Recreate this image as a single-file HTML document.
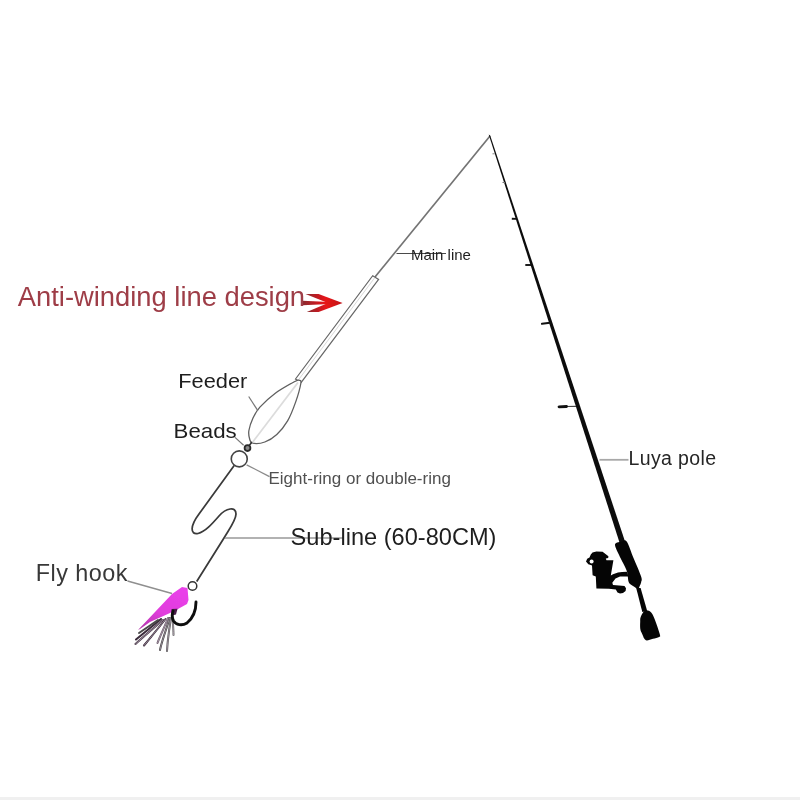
<!DOCTYPE html>
<html><head><meta charset="utf-8">
<style>
html,body{margin:0;padding:0;background:#fff;}
body{width:800px;height:800px;overflow:hidden;position:relative;}
svg{position:absolute;left:0;top:0;will-change:transform;}
text{font-family:"Liberation Sans",sans-serif;}
</style></head>
<body>
<svg width="800" height="800" viewBox="0 0 800 800">
<defs>
<linearGradient id="arr" x1="0" x2="1" y1="0" y2="0">
<stop offset="0" stop-color="#8a2a30"/><stop offset="0.55" stop-color="#e81218"/><stop offset="1" stop-color="#c0141a"/>
</linearGradient>
<linearGradient id="flyg" x1="0.8" y1="0" x2="0.2" y2="1"><stop offset="0" stop-color="#ea40ea"/><stop offset="0.6" stop-color="#e03cdc"/><stop offset="1" stop-color="#b838b0"/></linearGradient>
<filter id="blur1" x="-20%" y="-20%" width="140%" height="140%"><feGaussianBlur stdDeviation="0.6"/></filter>
<filter id="blur2" x="-20%" y="-20%" width="140%" height="140%"><feGaussianBlur stdDeviation="1.2"/></filter>
</defs>
<rect x="0" y="797" width="800" height="3" fill="#f0f0f0"/>
<g class="gfx">
<!-- main line -->
<path d="M490 136 L375 277" stroke="#747474" stroke-width="1.7" fill="none"/>
<!-- tube -->
<path d="M372.7 275.7 L378.6 279.4 L301.2 382.4 L295.5 379 Z" stroke="#666" stroke-width="1.2" fill="#fff"/>
<path d="M374.5 278 L298 380.5" stroke="#d8d8d8" stroke-width="1" fill="none"/>
<!-- feeder -->
<path d="M299.1 380.3 C298.0 380.0 298.3 379.5 294.3 381.7 C290.3 383.9 280.7 389.2 275.0 393.4 C269.3 397.6 263.6 403.0 259.9 407.1 C256.2 411.2 254.8 414.2 253.0 418.1 C251.2 422.0 249.5 427.1 248.9 430.5 C248.3 433.9 249.0 436.7 249.6 438.8 C250.2 440.9 250.0 442.7 252.5 443.2 C255.0 443.7 260.8 443.5 264.8 442.0 C268.9 440.5 273.0 437.9 276.8 434.4 C280.6 430.9 284.4 426.4 287.6 420.9 C290.8 415.4 293.6 407.8 295.8 401.6 C298.0 395.4 300.2 387.1 300.8 383.5 C301.4 379.9 300.2 380.6 299.1 380.3 Z" stroke="#606060" stroke-width="1.3" fill="#fff"/>
<path d="M298 382.5 L252 443" stroke="#dcdcdc" stroke-width="1.8" fill="none"/>
<path d="M249.2 445.6 L252 442" stroke="#333" stroke-width="1.6"/>
<!-- bead -->
<circle cx="247.5" cy="448.1" r="2.9" fill="#8a8a8a" stroke="#2a2a2a" stroke-width="1.8"/>
<!-- ring -->
<circle cx="239.25" cy="458.9" r="8.0" fill="none" stroke="#444" stroke-width="1.6"/>
<!-- sub line -->
<path d="M234.2 465.5 L199 514 C190 526 190 535 198 533.5 C205 532 212 524 219 516 C226 508 236 506 236 514 C236 520 230 528 224 538 L196.7 581.5" stroke="#3a3a3a" stroke-width="1.75" fill="none"/>
<!-- leaders -->
<path d="M396.5 253.5 L446 253.5" stroke="#4a4a4a" stroke-width="1"/>
<path d="M248.7 396.5 L257.8 410.6" stroke="#777" stroke-width="1.2"/>
<path d="M235 437.4 L243.6 445.2" stroke="#777" stroke-width="1.2"/>
<path d="M246.6 464.8 L269.5 476.6" stroke="#8a8a8a" stroke-width="1.3"/>
<path d="M225 538 L343 538" stroke="#999" stroke-width="1.5"/>
<path d="M127.5 581 L172 593.5" stroke="#8f8f8f" stroke-width="1.4"/>
<path d="M599.5 459.8 L628.5 459.8" stroke="#a8a8a8" stroke-width="1.8"/>
<!-- arrow -->
<g filter="url(#blur1)">
<path d="M305.5 294 L318.6 294 L342.5 303 L328 303 Z" fill="url(#arr)"/>
<path d="M306.8 312 L318.6 312 L342.5 303 L328 303 Z" fill="url(#arr)"/>
<path d="M302.5 300.8 L330 302 L342.5 303 L330 304 L302.5 305.2 Z" fill="url(#arr)"/>
</g>
<!-- fly hook -->
<path d="M172.0 594.0 L182.0 587.0 L187.5 588.0 L188.5 600.0 L187.0 604.0 L178.0 609.0 L170.0 613.0 L150.0 622.0 L140.0 629.0 L138.0 630.0 Z" fill="url(#flyg)" filter="url(#blur1)"/>
<g stroke-linecap="round" fill="none" filter="url(#blur1)">
<path d="M161 619 L136 639.5" stroke="#3a2a3a" stroke-width="2"/>
<path d="M163 620 C155 627 143 637 135.5 644" stroke="#4a3a4a" stroke-width="2"/>
<path d="M165.5 619 C160 626 151 637 144 645.5" stroke="#3a2a3a" stroke-width="2"/>
<path d="M168 618 C165 626 160 636 157.5 643" stroke="#6a5a6a" stroke-width="2"/>
<path d="M169.5 618 C167 628 162 640 160 650" stroke="#404040" stroke-width="2"/>
<path d="M171 618 C169 630 167.5 642 167 651" stroke="#555" stroke-width="2"/>
<path d="M172.5 617 C173 625 173.5 630 173.5 635" stroke="#6a6a6a" stroke-width="2"/>
<path d="M158 620 L139 633" stroke="#4a4a4a" stroke-width="2"/>
<path d="M163 620 C155 627 143 637 135.5 644" stroke="#b8a8b8" stroke-width="0.7"/>
<path d="M165.5 619 C160 626 151 637 144 645.5" stroke="#b8a8b8" stroke-width="0.7"/>
<path d="M168 618 C165 626 160 636 157.5 643" stroke="#b8a8b8" stroke-width="0.7"/>
<path d="M169.5 618 C167 628 162 640 160 650" stroke="#b8a8b8" stroke-width="0.7"/>
<path d="M171 618 C169 630 167.5 642 167 651" stroke="#b8a8b8" stroke-width="0.7"/>
<path d="M172.5 617 C173 625 173.5 630 173.5 635" stroke="#b8a8b8" stroke-width="0.7"/>
</g>
<path d="M171.5 609 L177.5 608.8 L176 614.5 L172 615.5 Z" fill="#4a1a4a" filter="url(#blur1)"/>
<path d="M196 602 C196 610 193 618 187 623 C182 626 176 625 173.5 621 C172 618 172 614 173 611" stroke="#0e0e0e" stroke-width="2.9" fill="none" stroke-linecap="round"/>
<circle cx="192.5" cy="586" r="4.3" fill="#fff" stroke="#333" stroke-width="1.5"/>
<!-- rod -->
<g fill="#050505">
<path d="M488.7 134.5 L490.2 135.5 L626.2 545.0 L620.3 545.0 Z" fill="#0c0c0c"/>
<path d="M492.5 153.8 L494.8 153.8" stroke="#888" stroke-width="1"/>
<path d="M502.5 182.5 L505 182.5" stroke="#777" stroke-width="1.1"/>
<path d="M511.8 218.7 L516.5 218.9" stroke="#111" stroke-width="1.9"/>
<path d="M525.3 265 L531.5 265" stroke="#111" stroke-width="1.9"/>
<path d="M542 323.8 L550 322.8" stroke="#111" stroke-width="2.1" stroke-linecap="round"/>
<path d="M566 406.5 L576 406.3" stroke="#444" stroke-width="1.2"/>
<path d="M559 406.8 L566.5 406.5" stroke="#111" stroke-width="2.8" stroke-linecap="round"/>
<path d="M616.2 543.1 C617.2 542.3 619.2 542.1 621.0 541.8 C622.8 541.5 624.6 538.7 626.7 541.4 C628.8 544.1 631.1 552.2 633.5 558.0 C635.9 563.8 639.8 572.4 641.1 576.4 C642.4 580.4 641.5 580.3 641.2 582.0 C640.9 583.7 640.0 585.4 639.5 586.5 C639.0 587.6 639.1 588.9 638.0 588.8 C636.9 588.7 634.5 587.0 633.0 586.0 C631.5 585.0 629.8 584.3 628.9 582.5 C628.0 580.7 628.0 577.2 627.6 575.0 C627.2 572.8 627.4 572.2 626.2 569.4 C625.1 566.6 622.3 561.8 620.5 558.0 C618.7 554.2 616.0 549.1 615.3 546.6 C614.6 544.1 615.2 543.9 616.2 543.1 Z"/>
<path d="M636.2 588.0 L640.6 588.0 L647.2 611.0 L642.3 612.0 Z"/>
<path d="M645.1 610.6 C646.9 609.9 649.6 610.9 651.2 612.4 C652.9 613.9 653.7 617.0 654.8 619.4 C655.8 621.8 656.6 624.4 657.5 627.0 C658.4 629.6 659.7 633.5 660.0 635.1 C660.3 636.8 660.3 636.3 659.1 636.9 C657.9 637.5 655.0 638.2 653.0 638.8 C651.0 639.4 648.4 640.4 646.9 640.4 C645.4 640.4 645.0 639.7 644.2 638.6 C643.5 637.5 642.9 635.6 642.2 634.0 C641.5 632.4 640.6 631.0 640.3 629.0 C640.0 627.0 640.1 624.0 640.2 622.0 C640.3 620.0 639.9 618.6 640.8 616.8 C641.6 614.9 643.4 611.3 645.1 610.6 Z"/>
<path d="M590.8 554.4 L592.5 552.5 L596.4 551.5 L602.6 551.8 L605.5 554.1 L608.4 556.2 L608.2 557.9 L605.8 558.4 L606.5 560.2 L613.4 560.2 L610.8 575.5 L613.0 574.3 L618.0 572.5 L622.0 571.9 L627.0 571.8 L628.5 576.5 L620.0 576.6 L615.5 578.6 L612.3 582.8 L613.0 585.0 L619.0 585.4 L624.5 586.0 L626.0 588.3 L625.6 591.0 L623.0 593.0 L620.0 593.6 L617.5 592.6 L615.8 589.6 L608.9 588.8 L596.4 588.4 L595.8 576.4 L592.6 575.2 L592.0 565.6 L591.4 565.2 L588.3 564.2 L586.0 561.4 L587.2 558.8 L589.5 557.6 Z"/>
<circle cx="591.6" cy="561.5" r="2.0" fill="#fff"/>
</g>
</g>
<g class="txt" fill="#1e1e1e">
<text x="17.8" y="305.8" font-size="27.35" fill="#9e3d47">Anti-winding line design</text>
<text transform="translate(178.3 387.5) scale(1.13 1)" font-size="19.3">Feeder</text>
<text transform="translate(173.6 437.6) scale(1.12 1)" font-size="19.9">Beads</text>
<text x="410.9" y="259.8" font-size="15.0">Main line</text>
<text x="268.5" y="483.8" font-size="17.0" fill="#505050">Eight-ring or double-ring</text>
<text x="290.6" y="544.5" font-size="23.6">Sub-line (60-80CM)</text>
<text x="35.8" y="580.5" font-size="23.4" letter-spacing="0.45" fill="#383838">Fly hook</text>
<text x="628.5" y="465" font-size="19.5" letter-spacing="0.37" fill="#262626">Luya pole</text>
</g>
</svg>
</body></html>
